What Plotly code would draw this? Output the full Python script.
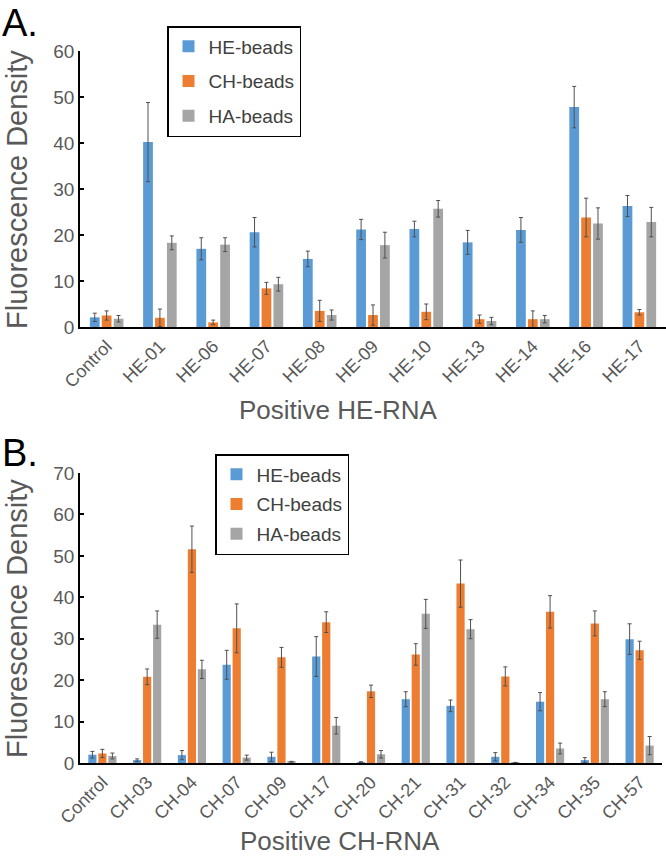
import plotly.graph_objects as go

W, H = 666, 858

# ---------------- data ----------------
cats_a = ["Control", "HE-01", "HE-06", "HE-07", "HE-08", "HE-09", "HE-10",
          "HE-13", "HE-14", "HE-16", "HE-17"]
he_a = [2.1, 40.2, 17.0, 20.6, 14.8, 21.2, 21.3, 18.4, 21.1, 47.8, 26.3]
he_a_err = [0.9, 8.6, 2.4, 3.2, 1.7, 2.2, 1.7, 2.6, 2.7, 4.5, 2.3]
ch_a = [2.5, 2.0, 1.0, 8.4, 3.5, 2.6, 3.3, 1.7, 1.7, 23.8, 3.2]
ch_a_err = [1.0, 1.9, 0.5, 1.3, 2.3, 2.2, 1.7, 0.9, 1.8, 4.2, 0.6]
ha_a = [1.8, 18.3, 17.9, 9.3, 2.6, 17.8, 25.7, 1.3, 1.7, 22.5, 22.8]
ha_a_err = [0.7, 1.5, 1.5, 1.5, 1.1, 2.8, 1.8, 0.8, 0.8, 3.4, 3.2]

cats_b = ["Control", "CH-03", "CH-04", "CH-07", "CH-09", "CH-17", "CH-20",
          "CH-21", "CH-31", "CH-32", "CH-34", "CH-35", "CH-57"]
he_b = [2.0, 0.7, 1.9, 23.7, 1.5, 25.7, 0.2, 15.4, 13.8, 1.5, 14.8, 0.7, 29.9]
he_b_err = [0.8, 0.3, 1.1, 3.5, 1.1, 4.8, 0.1, 1.8, 1.4, 1.0, 2.2, 0.6, 3.7]
ch_b = [2.3, 20.8, 51.6, 32.5, 25.5, 34.0, 17.3, 26.2, 43.3, 20.9, 36.5, 33.7, 27.2]
ch_b_err = [1.0, 1.9, 5.6, 5.9, 2.4, 2.5, 1.5, 2.6, 5.7, 2.3, 3.9, 3.0, 2.2]
ha_b = [1.7, 33.4, 22.6, 1.3, 0.3, 9.0, 2.1, 36.0, 32.3, 0.1, 3.5, 15.4, 4.2]
ha_b_err = [0.7, 3.3, 2.2, 0.6, 0.1, 2.0, 0.9, 3.5, 2.3, 0.05, 1.3, 1.8, 2.2]

series_names = ["HE-beads", "CH-beads", "HA-beads"]
colors = ["#5B9BD5", "#ED7D31", "#A5A5A5"]

# ---------------- helpers (window pixel -> paper fraction) ----------------
def px_x(p):
    return p / W

def px_y(p):
    return 1 - p / H

FONT = "Liberation Sans, Arial, sans-serif"
TICK_COLOR = "#595959"

fig = go.Figure()

panel_a = [(he_a, he_a_err), (ch_a, ch_a_err), (ha_a, ha_a_err)]
panel_b = [(he_b, he_b_err), (ch_b, ch_b_err), (ha_b, ha_b_err)]

for i, (vals, errs) in enumerate(panel_a):
    fig.add_trace(go.Bar(
        x=cats_a, y=vals, name=series_names[i],
        marker=dict(color=colors[i], line=dict(width=0)),
        error_y=dict(type="data", array=errs, color="#505050", thickness=1, width=2),
        xaxis="x", yaxis="y", legend="legend", legendgroup="a%d" % i,
    ))

for i, (vals, errs) in enumerate(panel_b):
    fig.add_trace(go.Bar(
        x=cats_b, y=vals, name=series_names[i],
        marker=dict(color=colors[i], line=dict(width=0)),
        error_y=dict(type="data", array=errs, color="#505050", thickness=1, width=2),
        xaxis="x2", yaxis="y2", legend="legend2", legendgroup="b%d" % i,
    ))

axis_common_y = dict(
    automargin=False,
    showline=True, linecolor="#000000", linewidth=1.5,
    ticks="inside", ticklen=4, tickcolor="#000000", tickwidth=1.5,
    showgrid=False, zeroline=False, dtick=10,
    tickfont=dict(family=FONT, size=19, color=TICK_COLOR),
)
axis_common_x = dict(
    automargin=False,
    type="category", showline=True, linecolor="#000000", linewidth=1.5,
    ticks="", showgrid=False, tickangle=-45,
    tickfont=dict(family=FONT, size=18, color=TICK_COLOR),
)

legend_common = dict(
    bordercolor="#000000", borderwidth=1.5, bgcolor="rgba(255,255,255,0)",
    font=dict(family=FONT, size=19, color="#404040"),
    xanchor="left", yanchor="top", traceorder="grouped",
)

fig.update_layout(
    template="none",
    width=W, height=H,
    margin=dict(l=0, r=0, t=0, b=0, autoexpand=False),
    paper_bgcolor="white", plot_bgcolor="white",
    barmode="group", bargap=0.33, bargroupgap=0.18,
    showlegend=True,
    xaxis=dict(domain=[px_x(80), 1.0], anchor="y", range=[-0.5, 10.5], **axis_common_x),
    yaxis=dict(domain=[px_y(327), px_y(51)], anchor="x", range=[0, 60], **axis_common_y),
    xaxis2=dict(domain=[px_x(80), px_x(662)], anchor="y2", range=[-0.5, 12.5], **axis_common_x),
    yaxis2=dict(domain=[px_y(763), px_y(473)], anchor="x2", range=[0, 70], **axis_common_y),
    legend=dict(x=px_x(167), y=px_y(26), tracegroupgap=7, **legend_common),
    legend2=dict(x=px_x(215), y=px_y(454), tracegroupgap=2, **legend_common),
)

annotations = [
    dict(text="A.", x=px_x(0), y=px_y(0), xanchor="left", yanchor="top",
         font=dict(family=FONT, size=38, color="#000000")),
    dict(text="B.", x=px_x(0), y=px_y(430), xanchor="left", yanchor="top",
         font=dict(family=FONT, size=38, color="#000000")),
    dict(text="Fluorescence Density", x=px_x(17), y=px_y(190), textangle=-90,
         xanchor="center", yanchor="middle",
         font=dict(family=FONT, size=29, color=TICK_COLOR)),
    dict(text="Fluorescence Density", x=px_x(17), y=px_y(619), textangle=-90,
         xanchor="center", yanchor="middle",
         font=dict(family=FONT, size=29, color=TICK_COLOR)),
    dict(text="Positive HE-RNA", x=px_x(338), y=px_y(410),
         xanchor="center", yanchor="middle",
         font=dict(family=FONT, size=26, color=TICK_COLOR)),
    dict(text="Positive CH-RNA", x=px_x(340), y=px_y(841),
         xanchor="center", yanchor="middle",
         font=dict(family=FONT, size=26, color=TICK_COLOR)),
]
for a in annotations:
    a.update(xref="paper", yref="paper", showarrow=False)
fig.update_layout(annotations=annotations)

# remove the default 8px page margin so the figure fills the window exactly
fig.write_html(
    "out.html",
    config={"displayModeBar": False},
    post_script="document.body.style.margin='0px';document.body.style.overflow='hidden';",
)
